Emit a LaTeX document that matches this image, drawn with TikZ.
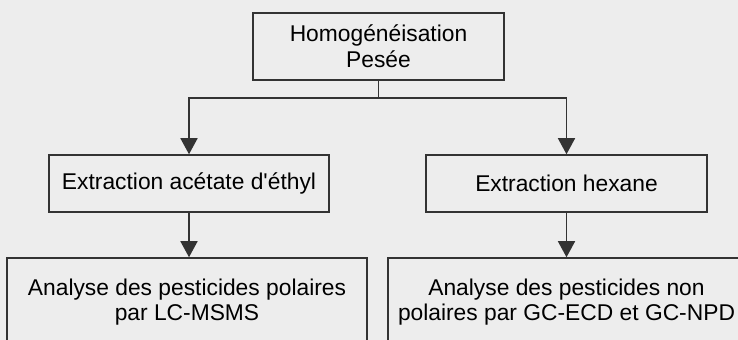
\documentclass[tikz,border=0pt]{standalone}
\usepackage{fontspec}
\newfontfamily\schema{Liberation Sans}
\usetikzlibrary{arrows.meta}

\begin{document}
\begin{tikzpicture}[x=0.5pt,y=-0.5pt,
    box/.style={draw=black!80,line width=0.75pt,align=center,inner sep=0pt,
      font=\schema\fontsize{11.4}{12.8}\selectfont,text=black},
    fleche/.style={draw=black!80,line width=0.75pt,-{Triangle[width=8.5pt,length=8pt]}}]
  \fill[black!7] (0,0) rectangle (738,340);
  \clip (0,0) rectangle (738,340);
      \node[box,minimum width=125.5pt,minimum height=33.5pt] (homog) at (378.5,46.5) {Homogénéisation\\Pesée};
      \node[box,minimum width=140pt,minimum height=28.5pt] (ext1) at (189,183.5) {Extraction acétate d'éthyl};
      \node[box,minimum width=140.5pt,minimum height=28.5pt] (ext2) at (566.5,183.5) {Extraction hexane};
      \node[box,minimum width=180pt,minimum height=44pt] (ana1) at (187,302) {Analyse des pesticides polaires\\par LC-MSMS};
      \node[box,minimum width=178.5pt,minimum height=44pt] (ana2) at (566.5,302) {Analyse des pesticides non\\polaires par GC-ECD et GC-NPD};
      \coordinate (jonction) at (378.5,98);
    \draw[draw=black!80,line width=0.75pt] (homog.south) -- (jonction);
    \draw[fleche] (jonction) -| (ext1.north);
    \draw[fleche] (jonction) -| (ext2.north);
    \draw[fleche] (ext1.south) -- (ext1.south |- ana1.north);
    \draw[fleche] (ext2.south) -- (ext2.south |- ana2.north);
\end{tikzpicture}
\end{document}
